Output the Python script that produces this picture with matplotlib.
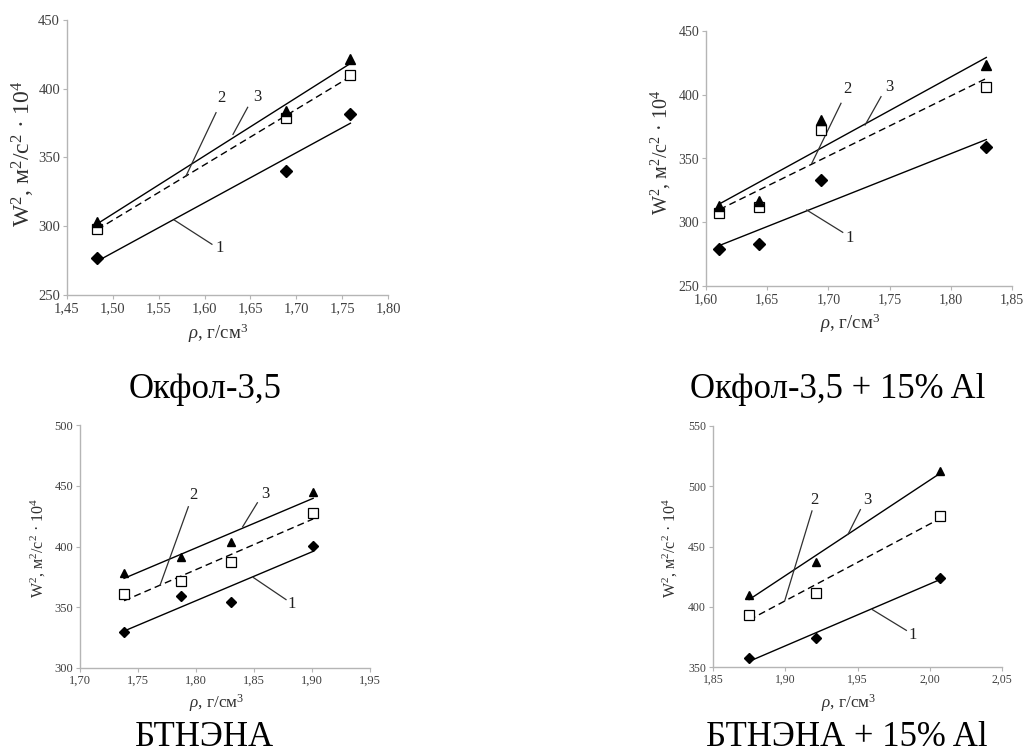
import numpy as np
import matplotlib
matplotlib.use("Agg")
import matplotlib.pyplot as plt
from matplotlib.ticker import FuncFormatter, MultipleLocator

plt.rcParams["font.family"] = ["Liberation Serif", "DejaVu Serif"]
plt.rcParams["mathtext.fontset"] = "custom"
plt.rcParams["mathtext.rm"] = "Liberation Serif"
plt.rcParams["mathtext.it"] = "Liberation Serif:italic"

# ---- data (1 - diamonds, 2 - squares, 3 - triangles)
okfol_x = [1.483, 1.689, 1.759]
okfol_y1 = [277, 340, 382]
okfol_y2 = [298, 379, 410]
okfol_y3 = [303, 384, 422]

okfol_al_x = [1.611, 1.643, 1.694, 1.829]
okfol_al_y1 = [279, 283, 333, 359]
okfol_al_y2 = [307, 312, 372, 406]
okfol_al_y3 = [313, 317, 380, 423]

btnena_x = [1.738, 1.787, 1.830, 1.901]
btnena_y1 = [329.5, 359.5, 354.5, 400.5]
btnena_y2 = [361, 371.5, 387, 427.5]
btnena_y3 = [378.5, 391.5, 403.5, 444.5]

btnena_al_x = [1.875, 1.921, 2.007]
btnena_al_y1 = [357.5, 374, 424]
btnena_al_y2 = [393.5, 411.5, 475.5]
btnena_al_y3 = [409.5, 437, 512.5]

titles = ["Окфол-3,5", "Окфол-3,5 + 15% Al", "БТНЭНА", "БТНЭНА + 15% Al"]

XLABEL = r"$\rho$, г/см$^3$"
YLABEL = r"W$^2$, м$^2$/с$^2$ · 10$^4$"

W, H = 1025, 754


def px_axes(fig, left, top, right, bottom):
    """Add axes given pixel box (origin top-left)."""
    return fig.add_axes([left / W, 1 - bottom / H, (right - left) / W, (bottom - top) / H])


def comma(v, pos):
    return f"{v:.2f}".replace(".", ",")


def draw_panel(ax, x, ys, xlim, ylim, notes, tick_fs, ylab_fs, xlab_fs, ms, ylab_xy, xlab_xy):
    x = np.asarray(x)
    styles = [
        dict(marker="D", mfc="black", mec="black", ms=ms * 0.85),
        dict(marker="s", mfc="white", mec="black", ms=ms * 1.05, mew=0.9),
        dict(marker="^", mfc="black", mec="black", ms=ms),
    ]
    for i, y in enumerate(ys):
        # linear trendline over the data range
        k, b = np.polyfit(x, y, 1)
        xx = np.array([x.min(), x.max()])
        ax.plot(xx, k * xx + b, color="black", lw=1.0,
                ls=(0, (5, 3)) if i == 1 else "-", zorder=2)
        ax.plot(x, y, ls="none", zorder=3, **styles[i])

    # curve numbers with leader lines
    for lab, txy, p0, p1 in notes:
        ax.plot([p0[0], p1[0]], [p0[1], p1[1]], color="#303030", lw=0.9, zorder=2)
        ax.text(txy[0], txy[1], lab, ha="center", va="center", fontsize=12, color="#202020")

    ax.set_xlim(*xlim)
    ax.set_ylim(*ylim)
    ax.xaxis.set_major_locator(MultipleLocator(0.05))
    ax.yaxis.set_major_locator(MultipleLocator(50))
    ax.xaxis.set_major_formatter(FuncFormatter(comma))
    for s in ["top", "right"]:
        ax.spines[s].set_visible(False)
    for s in ["left", "bottom"]:
        ax.spines[s].set_color("#b5b5b5")
        ax.spines[s].set_linewidth(1.0)
    ax.tick_params(direction="out", length=3, width=0.8, color="#b5b5b5",
                   labelsize=tick_fs, labelcolor="#404040", pad=2)

    ax.set_ylabel(YLABEL, fontsize=ylab_fs, color="#303030")
    ax.yaxis.set_label_coords(*ylab_xy)
    ax.set_xlabel(XLABEL, fontsize=xlab_fs, color="#303030")
    ax.xaxis.set_label_coords(*xlab_xy)


fig = plt.figure(figsize=(10.25, 7.54), dpi=100)

ax1 = px_axes(fig, 67, 20, 388, 295)
draw_panel(ax1, okfol_x, [okfol_y1, okfol_y2, okfol_y3], (1.45, 1.80), (250, 450),
           [("2", (1.618, 393), (1.6125, 382.6), (1.5797, 336.5)),
            ("3", (1.658, 393.8), (1.647, 386.5), (1.631, 366.8)),
            ("1", (1.616, 284), (1.608, 286.9), (1.567, 304.5))],
           tick_fs=10.5, ylab_fs=17, xlab_fs=13.5, ms=7,
           ylab_xy=(-0.094, 0.515), xlab_xy=(0.47, -0.095))

ax2 = px_axes(fig, 706, 31, 1012, 286)
draw_panel(ax2, okfol_al_x, [okfol_al_y1, okfol_al_y2, okfol_al_y3], (1.60, 1.85), (250, 450),
           [("2", (1.7158, 404.2), (1.7103, 393.3), (1.6864, 346.2)),
            ("3", (1.7497, 405.8), (1.743, 398.5), (1.730, 376.3)),
            ("1", (1.7177, 287.4), (1.7117, 292.1), (1.6823, 309.6))],
           tick_fs=10, ylab_fs=14.5, xlab_fs=13.5, ms=7,
           ylab_xy=(-0.109, 0.525), xlab_xy=(0.47, -0.1))

ax3 = px_axes(fig, 80, 425, 370, 668)
draw_panel(ax3, btnena_x, [btnena_y1, btnena_y2, btnena_y3], (1.70, 1.95), (300, 500),
           [("2", (1.7977, 442.3), (1.7934, 432.7), (1.769, 368.1)),
            ("3", (1.8595, 443.1), (1.8529, 436), (1.8402, 416.2)),
            ("1", (1.8825, 352.5), (1.8776, 356.3), (1.8494, 374.5))],
           tick_fs=9, ylab_fs=11.5, xlab_fs=12.3, ms=6.3,
           ylab_xy=(-0.111, 0.495), xlab_xy=(0.47, -0.1))

ax4 = px_axes(fig, 713, 426, 1002, 667)
draw_panel(ax4, btnena_al_x, [btnena_al_y1, btnena_al_y2, btnena_al_y3], (1.85, 2.05), (350, 550),
           [("2", (1.9204, 488.3), (1.9185, 479.5), (1.8996, 404.8)),
            ("3", (1.9568, 488.3), (1.952, 480.6), (1.9434, 460.1)),
            ("1", (1.9884, 376.3), (1.9838, 380.4), (1.9603, 397.6))],
           tick_fs=8.5, ylab_fs=11.5, xlab_fs=12.3, ms=6.3,
           ylab_xy=(-0.114, 0.495), xlab_xy=(0.47, -0.105))

# panel captions (top row by baseline, bottom row kept inside the canvas)
for t, cx in zip(titles[:2], [205, 838]):
    fig.text(cx / W, 1 - 398 / H, t, ha="center", va="baseline", fontsize=25, color="black")
for t, cx in zip(titles[2:], [204, 847]):
    fig.text(cx / W, 0.5 / H, t, ha="center", va="bottom", fontsize=25, color="black")

fig.savefig("out.png", dpi=100)
